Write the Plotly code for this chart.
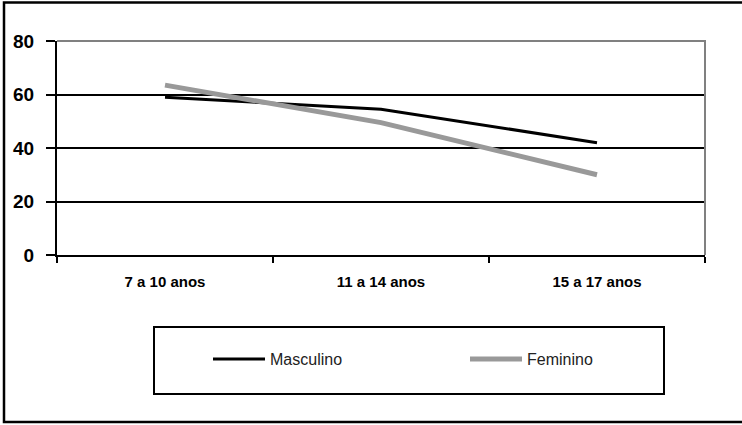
import plotly.graph_objects as go

categories = ["7 a 10 anos", "11 a 14 anos", "15 a 17 anos"]
masculino = [59, 54.5, 42]
feminino = [63.5, 49.5, 30]
y_ticks = [0, 20, 40, 60, 80]

fig = go.Figure()
fig.add_trace(go.Scatter(x=categories, y=masculino, name="Masculino", mode="lines",
                         line=dict(color="#000000", width=3)))
fig.add_trace(go.Scatter(x=categories, y=feminino, name="Feminino", mode="lines",
                         line=dict(color="#999999", width=5)))

W, H = 742, 425
L, R, T, B = 57, 37, 41, 170
pw, ph = W - L - R, H - T - B

def px(x):
    return (x - L) / pw

def py(y):
    return (H - B - y) / ph

shapes = [
    # plot area border (top + right, gray)
    dict(type="path", xref="paper", yref="paper", path="M 0,1 L 1,1 L 1,0",
         line=dict(color="#808080", width=2), layer="above"),
    # outer chart border
    dict(type="rect", xref="paper", yref="paper",
         x0=px(4), x1=px(746), y0=py(422), y1=py(2.5),
         line=dict(color="#000000", width=2.5)),
    # legend box
    dict(type="rect", xref="paper", yref="paper",
         x0=px(154), x1=px(664), y0=py(394), y1=py(327),
         line=dict(color="#000000", width=2)),
]

fig.update_layout(
    width=W, height=H,
    margin=dict(l=L, r=R, t=T, b=B, pad=0),
    paper_bgcolor="white", plot_bgcolor="white",
    font=dict(family="Liberation Sans, Arial, sans-serif", color="#000000"),
    showlegend=True,
    legend=dict(orientation="h", x=px(208), y=py(359), xanchor="left", yanchor="middle",
                bgcolor="rgba(0,0,0,0)", borderwidth=0,
                font=dict(size=16, color="#222222"),
                entrywidth=190, entrywidthmode="pixels", itemwidth=52),
    shapes=shapes,
    xaxis=dict(type="category", showline=True, linecolor="#000000", linewidth=2,
               ticks="outside", ticklen=6, tickwidth=2, tickcolor="#000000",
               tickson="boundaries", showgrid=False,
               tickfont=dict(size=15, family="Liberation Sans, Arial, sans-serif", weight="bold"),
               ticklabelstandoff=12, range=[-0.5, 2.5], fixedrange=True),
    yaxis=dict(range=[0, 80], tickvals=y_ticks, showline=True, linecolor="#000000", linewidth=2,
               ticks="outside", ticklen=9, tickwidth=2, tickcolor="#000000",
               showgrid=True, gridcolor="#000000", gridwidth=1.5, zeroline=False,
               tickfont=dict(size=19, family="Liberation Sans, Arial, sans-serif", weight="bold"),
               ticklabelstandoff=8, fixedrange=True),
)

fig.write_html("out.html", config={"displayModeBar": False},
               post_script="document.body.style.margin='0px';document.body.style.overflow='hidden';")
